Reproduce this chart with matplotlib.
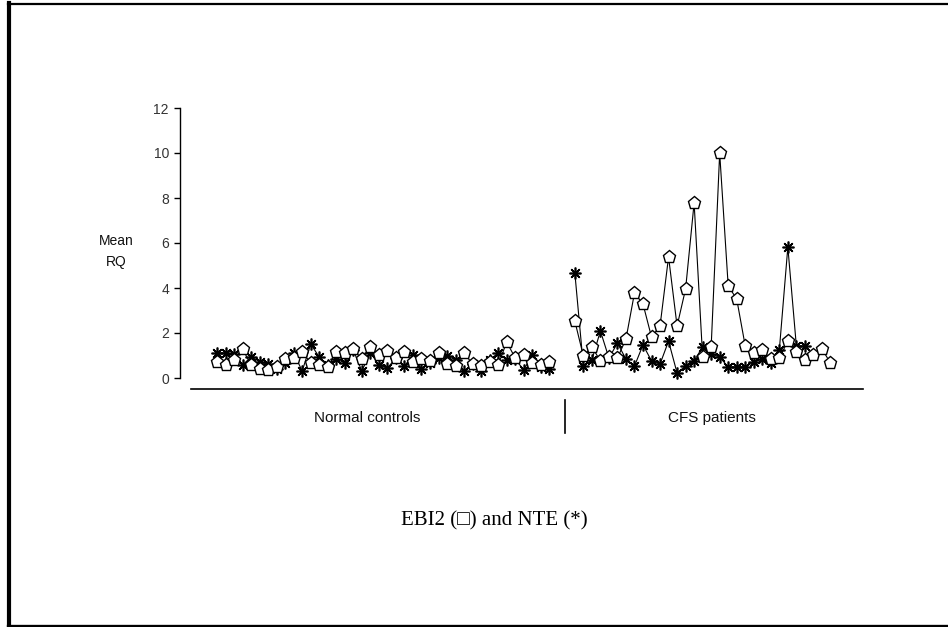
import numpy as np
import matplotlib
matplotlib.use("Agg")
import matplotlib.pyplot as plt
from matplotlib.lines import Line2D

# ---- data ----
normal_ebi2 = [0.73, 0.58, 0.80, 1.29, 0.58, 0.40, 0.36, 0.49, 0.84, 0.89,
               1.16, 0.67, 0.58, 0.49, 1.16, 1.11, 1.29, 0.84, 1.40, 1.02,
               1.20, 0.89, 1.16, 0.71, 0.84, 0.76, 1.11, 0.62, 0.53, 1.11,
               0.62, 0.53, 0.71, 0.58, 1.60, 0.89, 1.02, 0.67, 0.58, 0.71]
normal_nte = [1.11, 1.11, 1.07, 0.58, 0.93, 0.73, 0.62, 0.40, 0.67, 1.11,
              0.31, 1.51, 0.93, 0.58, 0.84, 0.67, 1.24, 0.31, 1.13, 0.58,
              0.44, 0.89, 0.53, 1.02, 0.40, 0.67, 0.89, 0.98, 0.80, 0.31,
              0.62, 0.31, 0.80, 1.11, 0.80, 0.84, 0.36, 1.02, 0.49, 0.40]
cfs_ebi2 = [2.53, 0.98, 1.38, 0.76, 0.93, 0.89, 1.73, 3.78, 3.29, 1.82,
            2.31, 5.38, 2.31, 3.96, 7.78, 0.93, 1.38, 10.0, 4.09, 3.51,
            1.42, 1.11, 1.24, 0.84, 0.89, 1.64, 1.16, 0.80, 1.02, 1.29, 0.67]
cfs_nte = [4.67, 0.53, 0.80, 2.09, 0.89, 1.55, 0.84, 0.53, 1.47, 0.76,
           0.62, 1.64, 0.22, 0.53, 0.76, 1.38, 1.07, 0.93, 0.49, 0.49,
           0.49, 0.71, 0.84, 0.67, 1.24, 5.82, 1.42, 1.42]
yticks = [0, 2, 4, 6, 8, 10, 12]
group_labels = ["Normal controls", "CFS patients"]
title = "EBI2 (\u25a1) and NTE (*)"

W, H = 948, 627
fig = plt.figure(figsize=(W / 100, H / 100), dpi=100)
fig.patch.set_facecolor("white")

def fx(px):
    return px / W

def fy(py):
    return 1 - py / H

# axes: y=0 at px 378, y=12 at px 108; left spine at x px 180
ax_left, ax_right = 180, 863
ax = fig.add_axes([fx(ax_left), fy(378), (ax_right - ax_left) / W, (378 - 108) / H])
ax.set_ylim(0, 12)
step = 8.52
xmin = -(217 - ax_left) / step
ax.set_xlim(xmin, xmin + (ax_right - ax_left) / step)

x_norm = np.arange(len(normal_ebi2))
x_cfs_e = 42 + np.arange(len(cfs_ebi2))
x_cfs_n = 42 + np.arange(len(cfs_nte))

star = dict(marker=(8, 2, 0), markersize=8.5, markeredgewidth=1.2,
            color="black", linewidth=0.8, clip_on=False)
pent = dict(marker="p", markersize=9.5, markerfacecolor="white",
            markeredgecolor="black", markeredgewidth=1.0,
            color="black", linewidth=0.8, clip_on=False)

ax.plot(x_norm, normal_nte, **star, zorder=3)
ax.plot(x_cfs_n, cfs_nte, **star, zorder=3)
ax.plot(x_norm, normal_ebi2, **pent, zorder=4)
ax.plot(x_cfs_e, cfs_ebi2, **pent, zorder=4)

for s in ["top", "right", "bottom"]:
    ax.spines[s].set_visible(False)
ax.spines["left"].set_linewidth(1.0)
ax.set_xticks([])
ax.set_yticks(yticks)
ax.tick_params(axis="y", direction="out", length=4, width=1.0, pad=4,
               labelsize=10, labelcolor="#333333")
for lab in ax.get_yticklabels():
    lab.set_fontfamily("Liberation Sans")
ax.patch.set_alpha(0)

# separate x-axis line
fig.add_artist(Line2D([fx(191), fx(863)], [fy(389), fy(389)], color="black", linewidth=1.2))
# group divider
fig.add_artist(Line2D([fx(565), fx(565)], [fy(400), fy(433)], color="black", linewidth=1.2))

fig.text(fx(367), fy(418), group_labels[0], ha="center", va="center",
         fontsize=11, family="Liberation Sans", color="#111111")
fig.text(fx(712), fy(418), group_labels[1], ha="center", va="center",
         fontsize=11, family="Liberation Sans", color="#111111")

fig.text(fx(116), fy(241), "Mean", ha="center", va="center",
         fontsize=10, family="Liberation Sans", color="#111111")
fig.text(fx(116), fy(262), "RQ", ha="center", va="center",
         fontsize=10, family="Liberation Sans", color="#111111")

fig.text(fx(494), fy(521), title, ha="center", va="center",
         fontsize=15, family=["Liberation Serif", "DejaVu Serif"], color="black")

# outer frame (left, top, bottom)
fig.add_artist(Line2D([fx(9), fx(9)], [fy(3), fy(626)], color="black", linewidth=3))
fig.add_artist(Line2D([fx(8), fx(948)], [fy(3.5), fy(3.5)], color="black", linewidth=1.6))
fig.add_artist(Line2D([fx(8), fx(948)], [fy(625.5), fy(625.5)], color="black", linewidth=2.4))

fig.savefig("out.png", dpi=100, facecolor="white")
